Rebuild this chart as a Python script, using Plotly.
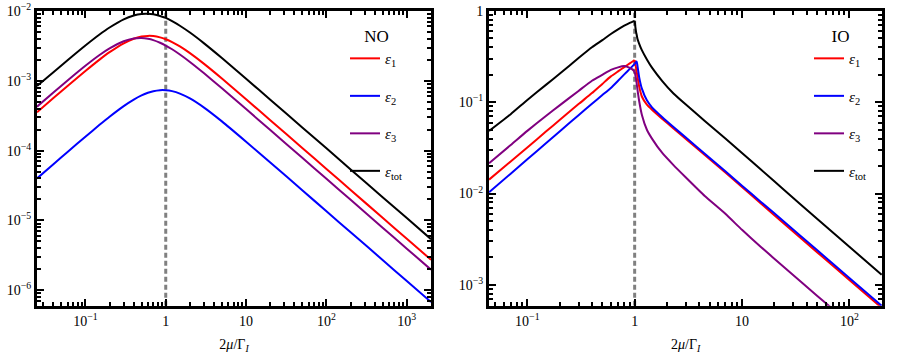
import plotly.graph_objects as go
from plotly.subplots import make_subplots

# ---- NO panel ----
x_no = [0.025, 0.04, 0.06, 0.1, 0.15, 0.2, 0.3, 0.4, 0.5, 0.6, 0.7, 0.85, 1, 1.2, 1.5,
        2, 3, 5, 10, 20, 50, 100, 200, 500, 1000, 2000]
eps1_no = [3.54e-4, 5.66e-4, 8.44e-4, 1.38e-3, 2.01e-3, 2.57e-3, 3.45e-3, 4.01e-3, 4.30e-3,
           4.40e-3, 4.37e-3, 4.19e-3, 3.94e-3, 3.59e-3, 3.11e-3, 2.49e-3, 1.75e-3, 1.08e-3,
           5.44e-4, 2.73e-4, 1.09e-4, 5.46e-5, 2.73e-5, 1.09e-5, 5.46e-6, 2.73e-6]
eps2_no = [4.00e-5, 6.39e-5, 9.56e-5, 1.58e-4, 2.34e-4, 3.06e-4, 4.34e-4, 5.38e-4, 6.18e-4,
           6.74e-4, 7.09e-4, 7.34e-4, 7.33e-4, 7.11e-4, 6.56e-4, 5.59e-4, 4.13e-4, 2.62e-4,
           1.34e-4, 6.76e-5, 2.71e-5, 1.35e-5, 6.77e-6, 2.71e-6, 1.35e-6, 6.77e-7]
eps3_no = [4.26e-4, 6.79e-4, 1.01e-3, 1.64e-3, 2.34e-3, 2.91e-3, 3.69e-3, 4.04e-3, 4.10e-3,
           4.00e-3, 3.83e-3, 3.51e-3, 3.20e-3, 2.83e-3, 2.38e-3, 1.86e-3, 1.28e-3, 7.81e-4,
           3.93e-4, 1.97e-4, 7.88e-5, 3.94e-5, 1.97e-5, 7.88e-6, 3.94e-6, 1.97e-6]
epstot_no = [8.40e-4, 1.33e-3, 1.97e-3, 3.20e-3, 4.60e-3, 5.80e-3, 7.60e-3, 8.60e-3, 9.05e-3,
             9.10e-3, 8.95e-3, 8.50e-3, 7.95e-3, 7.15e-3, 6.15e-3, 4.91e-3, 3.44e-3, 2.12e-3,
             1.07e-3, 5.37e-4, 2.15e-4, 1.08e-4, 5.38e-5, 2.15e-5, 1.08e-5, 5.38e-6]

# ---- IO panel ----
x_io = [0.044, 0.07, 0.1, 0.15, 0.2, 0.3, 0.4, 0.5, 0.6, 0.7, 0.8, 0.9, 0.97, 1.0,
        1.005, 1.015, 1.03, 1.045, 1.06, 1.1, 1.17, 1.3, 1.45, 1.8, 2.3, 3, 4.5, 7,
        10, 15, 25, 50, 100, 200]
eps1_io = [0.0142, 0.0225, 0.032, 0.048, 0.0638, 0.0955, 0.126, 0.159, 0.192, 0.218, 0.243,
           0.267, 0.283, 0.29, 0.279, 0.261, 0.238, 0.215, 0.193, 0.15, 0.115, 0.094, 0.0828,
           0.0661, 0.0517, 0.0397, 0.0264, 0.017, 0.0118, 0.0078, 0.0046, 0.00228, 0.00113,
           0.00056]
eps2_io = [0.0103, 0.0165, 0.0237, 0.0357, 0.0478, 0.0722, 0.0964, 0.12, 0.1436, 0.172, 0.202,
           0.232, 0.2535, 0.264, 0.266, 0.27, 0.276, 0.279, 0.255, 0.19, 0.14, 0.105, 0.088,
           0.069, 0.0535, 0.041, 0.0273, 0.0175, 0.0122, 0.0081, 0.00485, 0.0024, 0.00119,
           0.00059]
eps3_io = [0.0215, 0.034, 0.0486, 0.0713, 0.0925, 0.133, 0.172, 0.2, 0.226, 0.241, 0.249,
           0.238, 0.225, 0.216, 0.21, 0.198, 0.18, 0.16, 0.14, 0.104, 0.072, 0.05, 0.04,
           0.028, 0.0205, 0.015, 0.0094, 0.006, 0.004, 0.0026, 0.00154, 0.00076, 0.00038,
           0.00019]
epstot_io = [0.0485, 0.074, 0.106, 0.156, 0.205, 0.305, 0.40, 0.48, 0.56, 0.63, 0.69, 0.74,
             0.77, 0.78, 0.74, 0.67, 0.59, 0.545, 0.5, 0.44, 0.37, 0.295, 0.24, 0.172, 0.1248,
             0.0943, 0.0624, 0.04, 0.0278, 0.0183, 0.0108, 0.0053, 0.00261, 0.00129]

threshold = 1.0
yrange_no = [6e-7, 1e-2]
yrange_io = [5.9e-4, 1.0]

names = ["<i>ε</i><sub>1</sub>", "<i>ε</i><sub>2</sub>", "<i>ε</i><sub>3</sub>", "<i>ε</i><sub>tot</sub>"]
colors = ["#ff0000", "#0000ff", "#800080", "#000000"]

SERIF = "Liberation Serif"
M = "\u2212"
W, H = 900, 364


def fx(px):
    return px / W


def fy(py):
    return 1 - py / H


# minor tick positions 2..9 x 10^e
minor_vals = [m * 10.0 ** e for e in range(-7, 4) for m in range(2, 10)]

fig = make_subplots(rows=1, cols=2)

# dashed threshold lines at 2mu/Gamma = 1
for col, yr in [(1, yrange_no), (2, yrange_io)]:
    fig.add_trace(go.Scatter(x=[threshold, threshold], y=yr, mode="lines",
                             line=dict(color="#808080", width=3, dash="5px,3px"),
                             showlegend=False, hoverinfo="skip"), row=1, col=col)

for i, ys in enumerate([eps1_no, eps2_no, eps3_no, epstot_no]):
    fig.add_trace(go.Scatter(x=x_no, y=ys, mode="lines", name=names[i],
                             line=dict(color=colors[i], width=2, shape="spline", smoothing=0.6),
                             legend="legend", legendgroup=f"no{i}"), row=1, col=1)

# IO curves have a kink at threshold: draw both sides as separate smooth pieces
k = x_io.index(threshold)
for i, ys in enumerate([eps1_io, eps2_io, eps3_io, epstot_io]):
    fig.add_trace(go.Scatter(x=x_io[:k + 1], y=ys[:k + 1], mode="lines", name=names[i],
                             line=dict(color=colors[i], width=2, shape="spline", smoothing=0.5),
                             legend="legend2", legendgroup=f"io{i}"), row=1, col=2)
    fig.add_trace(go.Scatter(x=x_io[k:], y=ys[k:], mode="lines", name=names[i],
                             line=dict(color=colors[i], width=2, shape="spline", smoothing=0.4),
                             legend="legend2", legendgroup=f"io{i}", showlegend=False),
                  row=1, col=2)

axis_common = dict(
    type="log", showgrid=False, zeroline=False, automargin=False,
    showline=True, linecolor="black", linewidth=3, mirror="allticks",
    ticks="inside", ticklen=7, tickwidth=2, tickcolor="black", layer="above traces",
    minor=dict(tickmode="array", tickvals=minor_vals, ticks="inside", ticklen=4,
               tickwidth=1.5, tickcolor="black", showgrid=False),
    tickfont=dict(family=SERIF, size=14, color="black"),
)

xtitle = dict(text="2<i>μ</i>/Γ<sub><i>I</i></sub>", font=dict(family=SERIF, size=14, color="black"),
              standoff=12)

fig.update_xaxes(**axis_common, ticklabelstandoff=0)
fig.update_yaxes(**axis_common)

fig.update_layout(
    xaxis=dict(domain=[fx(37), fx(431)], range=[-1.602, 3.301],
               tickvals=[0.1, 1, 10, 100, 1000],
               ticktext=[f"10<sup>{M}1</sup>", "1", "10", "10<sup>2</sup>", "10<sup>3</sup>"],
               title=xtitle),
    yaxis=dict(domain=[fy(305.7), fy(11)], range=[-6.222, -2],
               tickvals=[1e-6, 1e-5, 1e-4, 1e-3, 1e-2],
               ticktext=[f"10<sup>{M}{n}</sup>" for n in [6, 5, 4, 3, 2]]),
    xaxis2=dict(domain=[fx(489), fx(882.3)], range=[-1.357, 2.307],
                tickvals=[0.1, 1, 10, 100],
                ticktext=[f"10<sup>{M}1</sup>", "1", "10", "10<sup>2</sup>"],
                title=xtitle),
    yaxis2=dict(domain=[fy(305.7), fy(11)], range=[-3.229, 0],
                tickvals=[1e-3, 1e-2, 1e-1, 1],
                ticktext=[f"10<sup>{M}3</sup>", f"10<sup>{M}2</sup>", f"10<sup>{M}1</sup>", "1"]),
    legend=dict(x=fx(345), y=fy(20), xanchor="left", yanchor="top",
                title=dict(text="NO", side="top center", font=dict(family=SERIF, size=17, color="black")),
                font=dict(family=SERIF, size=15, color="black"),
                bgcolor="rgba(0,0,0,0)", tracegroupgap=15),
    legend2=dict(x=fx(809), y=fy(20), xanchor="left", yanchor="top",
                 title=dict(text="IO", side="top center", font=dict(family=SERIF, size=17, color="black")),
                 font=dict(family=SERIF, size=15, color="black"),
                 bgcolor="rgba(0,0,0,0)", tracegroupgap=15),
    paper_bgcolor="white",
    plot_bgcolor="white",
    margin=dict(l=0, r=0, t=0, b=0),
    width=W,
    height=H,
)

# drop the default page margin so the figure sits at the window's top-left corner
fig.write_html("out.html", config={"displayModeBar": False},
               post_script="document.body.style.margin='0px';")
